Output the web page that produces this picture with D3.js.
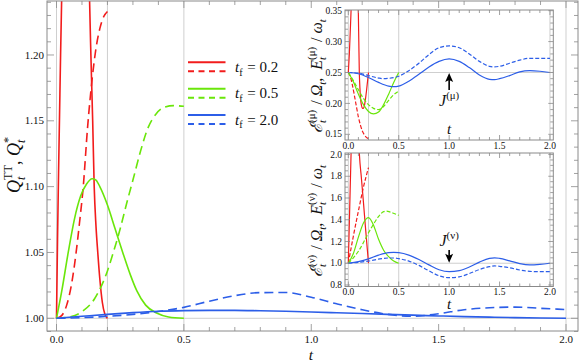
<!DOCTYPE html>
<html><head><meta charset="utf-8">
<script src="https://cdn.jsdelivr.net/npm/d3@7"></script>
<style>
body{margin:0;background:#fff}
svg{display:block}
text,tspan{font-family:"Liberation Serif","DejaVu Serif",serif;fill:#111;white-space:pre}
</style>
</head><body>
<svg id="c" width="580" height="363" font-family="Liberation Serif, DejaVu Serif, serif"></svg>
<script>
// ---------------- data ----------------
const tfLabels = ["0.2", "0.5", "2.0"];
const seriesColors = ["#f21c1c", "#6ae60a", "#2c5ee8"];

// main panel: Q_t^TT (solid) and Q_t^* (dashed)
const mainRedSolid = [[0,1.0],[0.004,1.06],[0.008,1.11],[0.012,1.155],[0.016,1.2],[0.02,1.24],[0.03,1.33],[0.05,1.5],[0.08,1.6],[0.11,1.45],[0.125,1.3],[0.13,1.24],[0.135,1.2],[0.142,1.15],[0.148,1.10],[0.155,1.07],[0.162,1.05],[0.17,1.03],[0.18,1.012],[0.19,1.003],[0.2,1.0]];
const mainRedDashed = [[0,1],[0.02,1.002],[0.04,1.01],[0.06,1.027],[0.077,1.05],[0.09,1.072],[0.105,1.1],[0.122,1.145],[0.14,1.182],[0.155,1.205],[0.17,1.22],[0.185,1.229],[0.2,1.233]];
const mainGreenSolid = [[0,1],[0.02,1.02],[0.046,1.05],[0.07,1.075],[0.095,1.093],[0.118,1.102],[0.14,1.106],[0.155,1.105],[0.17,1.1],[0.2,1.086],[0.23,1.068],[0.26,1.05],[0.29,1.033],[0.315,1.021],[0.35,1.01],[0.393,1.004],[0.44,1.001],[0.5,1.0]];
const mainGreenDashed = [[0,1],[0.05,1.001],[0.1,1.005],[0.15,1.015],[0.2,1.036],[0.223,1.05],[0.25,1.068],[0.275,1.087],[0.3,1.105],[0.33,1.127],[0.36,1.145],[0.39,1.155],[0.42,1.16],[0.46,1.1615],[0.5,1.161]];
const mainBlueSolid = [[0,1],[0.1,1.0015],[0.2,1.003],[0.3,1.0043],[0.4,1.0053],[0.5,1.0058],[0.6,1.006],[0.7,1.006],[0.8,1.0057],[0.9,1.0053],[1.0,1.0048],[1.1,1.0042],[1.2,1.0036],[1.3,1.003],[1.4,1.0024],[1.5,1.0018],[1.6,1.0013],[1.7,1.0009],[1.8,1.0005],[1.9,1.0002],[2.0,1.0]];
const mainBlueDashed = [[0,1],[0.1,1.0005],[0.2,1.0015],[0.3,1.003],[0.4,1.0052],[0.5,1.0083],[0.6,1.013],[0.7,1.0172],[0.8,1.0195],[0.9,1.0196],[1.0,1.016],[1.1,1.011],[1.2,1.0065],[1.3,1.003],[1.4,1.0015],[1.5,1.0035],[1.6,1.0065],[1.7,1.008],[1.8,1.0085],[1.9,1.0076],[2.0,1.0066]];

// inset (mu)
const muRedSolid = [[0,0.25],[0.01,0.28],[0.02,0.32],[0.027,0.35],[0.04,0.45],[0.06,0.6],[0.08,0.5],[0.099,0.35],[0.104,0.3],[0.109,0.25],[0.115,0.225],[0.12,0.21],[0.13,0.197],[0.14,0.192],[0.15,0.192],[0.16,0.197],[0.17,0.207],[0.18,0.22],[0.19,0.235],[0.2,0.25]];
const muRedDashed = [[0,0.25],[0.02,0.243],[0.04,0.23],[0.06,0.213],[0.08,0.195],[0.1,0.178],[0.12,0.165],[0.14,0.155],[0.16,0.149],[0.18,0.145],[0.2,0.143]];
const muGreenSolid = [[0,0.25],[0.05,0.235],[0.1,0.215],[0.15,0.198],[0.2,0.187],[0.25,0.183],[0.3,0.186],[0.35,0.198],[0.4,0.215],[0.45,0.234],[0.5,0.25]];
const muGreenDashed = [[0,0.25],[0.05,0.237],[0.1,0.222],[0.15,0.208],[0.2,0.198],[0.25,0.192],[0.3,0.19],[0.35,0.195],[0.4,0.205],[0.45,0.214],[0.5,0.22]];
const muBlueSolid = [[0,0.25],[0.1,0.248],[0.2,0.242],[0.3,0.234],[0.4,0.228],[0.45,0.227],[0.5,0.228],[0.6,0.236],[0.7,0.247],[0.8,0.259],[0.9,0.268],[1.0,0.272],[1.1,0.268],[1.2,0.258],[1.3,0.246],[1.4,0.239],[1.45,0.2385],[1.5,0.24],[1.6,0.245],[1.7,0.251],[1.8,0.253],[1.9,0.252],[2.0,0.25]];
const muBlueDashed = [[0,0.25],[0.1,0.249],[0.2,0.245],[0.3,0.241],[0.35,0.24],[0.4,0.2405],[0.5,0.244],[0.6,0.253],[0.7,0.265],[0.8,0.279],[0.9,0.29],[1.0,0.293],[1.1,0.29],[1.2,0.28],[1.3,0.268],[1.4,0.26],[1.45,0.259],[1.5,0.26],[1.6,0.265],[1.7,0.27],[1.8,0.273],[1.9,0.273],[2.0,0.273]];

// inset (nu)
const nuRedSolid = [[0,1.0],[0.0135,1.5],[0.027,2.0],[0.04,2.5],[0.07,3.0],[0.1,2.2],[0.11,2.0],[0.13,1.78],[0.15,1.56],[0.17,1.33],[0.19,1.11],[0.2,1.0]];
const nuRedDashed = [[0,1.0],[0.05,1.25],[0.1,1.48],[0.15,1.7],[0.2,1.88]];
const nuGreenSolid = [[0,1.0],[0.05,1.09],[0.1,1.24],[0.15,1.37],[0.2,1.42],[0.25,1.35],[0.3,1.22],[0.35,1.12],[0.4,1.06],[0.45,1.02],[0.5,1.0]];
const nuGreenDashed = [[0,1.0],[0.05,1.05],[0.1,1.11],[0.15,1.19],[0.2,1.28],[0.25,1.36],[0.3,1.43],[0.35,1.475],[0.38,1.48],[0.42,1.47],[0.46,1.455],[0.5,1.44]];
const nuBlueSolid = [[0,1.0],[0.1,1.015],[0.2,1.04],[0.3,1.075],[0.4,1.098],[0.45,1.1],[0.5,1.097],[0.6,1.075],[0.7,1.035],[0.8,0.985],[0.9,0.94],[1.0,0.922],[1.1,0.932],[1.2,0.965],[1.3,1.01],[1.4,1.045],[1.45,1.05],[1.5,1.045],[1.6,1.022],[1.7,0.997],[1.8,0.985],[1.9,0.99],[2.0,1.0]];
const nuBlueDashed = [[0,1.0],[0.1,1.008],[0.2,1.02],[0.3,1.038],[0.4,1.048],[0.45,1.048],[0.5,1.042],[0.6,1.02],[0.7,0.98],[0.8,0.93],[0.9,0.885],[1.0,0.867],[1.1,0.875],[1.2,0.905],[1.3,0.942],[1.4,0.968],[1.45,0.975],[1.5,0.972],[1.6,0.958],[1.7,0.938],[1.8,0.925],[1.9,0.922],[2.0,0.922]];

const xTickLabels = ["0.0","0.5","1.0","1.5","2.0"];
const mainYTickLabels = ["1.00","1.05","1.10","1.15","1.20"];
const muYTickLabels = ["0.15","0.20","0.25","0.30","0.35"];
const nuYTickLabels = ["0.8","1.0","1.2","1.4","1.6","1.8","2.0"];

// ---------------- helpers ----------------
const svg = d3.select("#c");
const FRAME = "#8a8a8a", GRID = "#cfcfcf";
const SERIF = "Liberation Serif, DejaVu Serif, serif";
const NB = "\u00A0";

function rich(parent, parts, size, anchor) {
  const t = parent.append("text").attr("font-size", size).attr("font-family", SERIF).attr("xml:space", "preserve");
  let x = 0, scriptStart = 0;
  parts.forEach(p => {
    const scr = p.sup || p.sub;
    const fs = scr ? size * 0.68 : size * (p.scale || 1);
    const yOff = p.sup ? -size * 0.42 : p.sub ? size * 0.26 : 0;
    const px = p.stack ? scriptStart : x + (p.gap || 0);
    const s = t.append("tspan").text(p.t.replace(/ /g, NB))
      .attr("font-size", fs)
      .attr("font-style", p.i ? "italic" : "normal")
      .attr("x", px).attr("y", yOff);
    const w = s.node().getComputedTextLength();
    if (p.stack) x = Math.max(x, px + w);
    else { if (scr) scriptStart = px; x = px + w; }
  });
  if (anchor === "middle") t.attr("transform", `translate(${-x/2},0)`);
  else if (anchor === "end") t.attr("transform", `translate(${-x},0)`);
  return x;
}

function range(a, b, s) { const r = []; for (let v = a; v <= b + 1e-9; v += s) r.push(+v.toFixed(6)); return r; }

function panel(cfg) {
  const g = svg.append("g");
  const x = d3.scaleLinear().domain(cfg.xd).range([cfg.l, cfg.r]);
  const y = d3.scaleLinear().domain(cfg.yd).range([cfg.b, cfg.t]);
  const id = "clip" + Math.round(cfg.l) + "_" + Math.round(cfg.t);
  svg.append("clipPath").attr("id", id).append("rect")
    .attr("x", cfg.l).attr("y", cfg.t).attr("width", cfg.r - cfg.l).attr("height", cfg.b - cfg.t);
  const grid = g.append("g").attr("stroke", GRID).attr("stroke-width", 1).attr("clip-path", `url(#${id})`);
  cfg.gx.forEach(v => grid.append("line").attr("x1", x(v)).attr("x2", x(v)).attr("y1", cfg.t).attr("y2", cfg.b));
  cfg.gy.forEach(v => grid.append("line").attr("y1", y(v)).attr("y2", y(v)).attr("x1", cfg.l).attr("x2", cfg.r));
  const line = d3.line().x(d => x(d[0])).y(d => y(d[1])).curve(d3.curveMonotoneX);
  const cg = g.append("g").attr("clip-path", `url(#${id})`).attr("fill", "none");
  cfg.series.forEach(s => {
    cg.append("path").attr("d", line(s.data)).attr("stroke", s.color)
      .attr("stroke-width", cfg.lw).attr("stroke-dasharray", s.dashed ? cfg.dash : null);
  });
  g.append("rect").attr("x", cfg.l).attr("y", cfg.t).attr("width", cfg.r - cfg.l).attr("height", cfg.b - cfg.t)
    .attr("fill", "none").attr("stroke", FRAME).attr("stroke-width", 1);
  const tk = g.append("g").attr("stroke", FRAME).attr("stroke-width", 0.8);
  const isMaj = (v, arr) => arr.some(m => Math.abs(m - v) < 1e-6);
  range(cfg.xMinor[0], cfg.xMinor[1], cfg.xMinor[2]).forEach(v => {
    const len = isMaj(v, cfg.xMajor) ? cfg.maj : cfg.min;
    const px = x(v);
    if (px < cfg.l || px > cfg.r) return;
    tk.append("line").attr("x1", px).attr("x2", px).attr("y1", cfg.b).attr("y2", cfg.b - len);
    tk.append("line").attr("x1", px).attr("x2", px).attr("y1", cfg.t).attr("y2", cfg.t + len);
  });
  range(cfg.yMinor[0], cfg.yMinor[1], cfg.yMinor[2]).forEach(v => {
    const len = isMaj(v, cfg.yMajor) ? cfg.maj : cfg.min;
    const py = y(v);
    if (py < cfg.t - 0.5 || py > cfg.b + 0.5) return;
    tk.append("line").attr("y1", py).attr("y2", py).attr("x1", cfg.l).attr("x2", cfg.l + len);
    tk.append("line").attr("y1", py).attr("y2", py).attr("x1", cfg.r).attr("x2", cfg.r - len);
  });
  cfg.xMajor.forEach((v, i) => g.append("text").attr("x", x(v)).attr("y", cfg.b + cfg.xlOff)
    .attr("text-anchor", "middle").attr("font-size", cfg.fs).attr("font-family", SERIF).text(cfg.xLabels[i]));
  cfg.yMajor.forEach((v, i) => g.append("text").attr("x", cfg.l - 3).attr("y", y(v)).attr("dy", "0.33em")
    .attr("text-anchor", "end").attr("font-size", cfg.fs).attr("font-family", SERIF).text(cfg.yLabels[i]));
  return { x, y, g };
}

function mk(solid, dashed, i) { return [{data: solid, color: seriesColors[i], dashed: false}, {data: dashed, color: seriesColors[i], dashed: true}]; }

// ---------------- main panel ----------------
const M = panel({
  l: 47, r: 578, t: 1, b: 331,
  xd: [-0.0373, 2.0471], yd: [0.99035, 1.241],
  gx: [0, 0.2, 0.5, 2.0], gy: [1.0],
  series: [...mk(mainRedSolid, mainRedDashed, 0), ...mk(mainGreenSolid, mainGreenDashed, 1), ...mk(mainBlueSolid, mainBlueDashed, 2)],
  lw: 1.6, dash: "9,5",
  xMajor: [0, 0.5, 1, 1.5, 2], xMinor: [0, 2, 0.1], xLabels: xTickLabels,
  yMajor: [1.0, 1.05, 1.1, 1.15, 1.2], yMinor: [0.99, 1.24, 0.01], yLabels: mainYTickLabels,
  maj: 7, min: 4, fs: 11, xlOff: 12
});

{
  const g = svg.append("g").attr("transform", "translate(311,359.5)");
  rich(g, [{t: "t", i: true}], 15.5, "middle");
  const gy = svg.append("g").attr("transform", "translate(20,165) rotate(-90)");
  rich(gy, [{t: "Q", i: true}, {t: "TT", sup: true}, {t: "t", sub: true, i: true, stack: true},
            {t: ", "}, {t: "Q", i: true}, {t: "*", sup: true}, {t: "t", sub: true, i: true, stack: true}], 18, "middle");
}

// legend
{
  const lg = svg.append("g");
  const ys = [62.3, 88.7, 115];
  tfLabels.forEach((lab, i) => {
    lg.append("line").attr("x1", 188).attr("x2", 225.5).attr("y1", ys[i]).attr("y2", ys[i])
      .attr("stroke", seriesColors[i]).attr("stroke-width", 2);
    lg.append("line").attr("x1", 188).attr("x2", 225.5).attr("y1", ys[i] + 9).attr("y2", ys[i] + 9)
      .attr("stroke", seriesColors[i]).attr("stroke-width", 2).attr("stroke-dasharray", "6,4.5");
    const tg = lg.append("g").attr("transform", `translate(235,${ys[i] + 9.5})`);
    rich(tg, [{t: "t", i: true}, {t: "f", sub: true}, {t: " = " + lab, gap: 1}], 15);
  });
}

// ---------------- inset mu ----------------
const I1 = panel({
  l: 345, r: 553.3, t: 10, b: 140,
  xd: [-0.033, 2.033], yd: [0.1408, 0.3511],
  gx: [0, 0.2, 0.5, 2.0], gy: [0.25],
  series: [...mk(muRedSolid, muRedDashed, 0), ...mk(muGreenSolid, muGreenDashed, 1), ...mk(muBlueSolid, muBlueDashed, 2)],
  lw: 1.2, dash: "4,2",
  xMajor: [0, 0.5, 1, 1.5, 2], xMinor: [0, 2, 0.1], xLabels: xTickLabels,
  yMajor: [0.15, 0.2, 0.25, 0.3, 0.35], yMinor: [0.15, 0.35, 0.01], yLabels: muYTickLabels,
  maj: 5, min: 3, fs: 9.5, xlOff: 9
});
// ---------------- inset nu ----------------
const I2 = panel({
  l: 345, r: 553.3, t: 153, b: 286.5,
  xd: [-0.033, 2.033], yd: [0.786, 2.014],
  gx: [0, 0.2, 0.5, 2.0], gy: [1.0],
  series: [...mk(nuRedSolid, nuRedDashed, 0), ...mk(nuGreenSolid, nuGreenDashed, 1), ...mk(nuBlueSolid, nuBlueDashed, 2)],
  lw: 1.2, dash: "4,2",
  xMajor: [0, 0.5, 1, 1.5, 2], xMinor: [0, 2, 0.1], xLabels: xTickLabels,
  yMajor: [0.8, 1.0, 1.2, 1.4, 1.6, 1.8, 2.0], yMinor: [0.8, 2.0, 0.05], yLabels: nuYTickLabels,
  maj: 5, min: 3, fs: 9.5, xlOff: 8
});

// inset axis labels
[[I1, 134, "μ", 76], [I2, 309, "ν", 221]].forEach(([P, ty, greek, cy]) => {
  const g = svg.append("g").attr("transform", `translate(${P.x(1.0)},${ty})`);
  rich(g, [{t: "t", i: true}], 15, "middle");
  const gy = svg.append("g").attr("transform", `translate(322,${cy}) rotate(-90)`);
  rich(gy, [{t: "ℰ", i: true, scale: 1.05}, {t: "(" + greek + ")", sup: true}, {t: "t", sub: true, i: true, stack: true},
            {t: " / ", gap: 1}, {t: "Ω", i: true}, {t: "t", sub: true, i: true},
            {t: ",  "}, {t: "E", i: true}, {t: "(" + greek + ")", sup: true}, {t: "t", sub: true, i: true, stack: true},
            {t: " / ", gap: 1}, {t: "ω", i: true}, {t: "t", sub: true, i: true}], 16, "middle");
});

function arrow(x, y1, y2) {
  const dir = Math.sign(y2 - y1);
  svg.append("line").attr("x1", x).attr("x2", x).attr("y1", y1).attr("y2", y2 - dir * 6)
    .attr("stroke", "#000").attr("stroke-width", 1.6);
  svg.append("path").attr("d", `M${x},${y2} L${x - 4},${y2 - dir * 9} L${x},${y2 - dir * 7} L${x + 4},${y2 - dir * 9} Z`).attr("fill", "#000");
}
{
  const xa = I1.x(1.0);
  arrow(xa, 90, I1.y(0.25) + 0.5);
  const g1 = svg.append("g").attr("transform", `translate(${xa},106)`);
  rich(g1, [{t: "J", i: true}, {t: "(μ)", sup: true}], 16, "middle");
  const xb = I2.x(1.0);
  arrow(xb, 250, I2.y(1.0) - 0.5);
  const g2 = svg.append("g").attr("transform", `translate(${xb},246)`);
  rich(g2, [{t: "J", i: true}, {t: "(ν)", sup: true}], 16, "middle");
}
</script>
</body></html>
